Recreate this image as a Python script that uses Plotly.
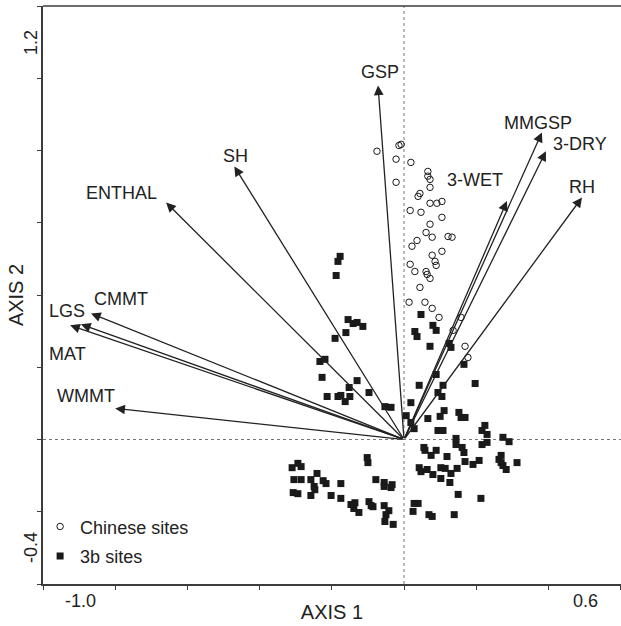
import plotly.graph_objects as go

# ---------------- data ----------------
# Environmental variable vectors (axis 1, axis 2)
var_names = ["GSP", "SH", "ENTHAL", "CMMT", "LGS", "MAT", "WMMT", "3-WET", "MMGSP", "3-DRY", "RH"]
var_x = [-0.072, -0.470, -0.659, -0.867, -0.895, -0.925, -0.800, 0.285, 0.382, 0.393, 0.493]
var_y = [0.980, 0.756, 0.656, 0.349, 0.319, 0.316, 0.086, 0.660, 0.850, 0.798, 0.670]

# Chinese sites (open circles)
cn_x = [-0.075, -0.014, -0.008, -0.022, 0.019, -0.022, 0.066, 0.066, 0.072, 0.072,
        0.044, 0.039, 0.072, 0.091, 0.105, 0.017, 0.047, 0.105, 0.072, 0.061,
        0.078, 0.122, 0.133, 0.022, 0.036, 0.078, 0.105, 0.086, 0.089, 0.017,
        0.030, 0.061, 0.064, 0.072, 0.044, 0.014, 0.058, 0.078, 0.097, 0.158,
        0.136, 0.169, 0.177]
cn_y = [0.798, 0.814, 0.817, 0.776, 0.767, 0.712, 0.742, 0.729, 0.720, 0.698,
        0.681, 0.673, 0.654, 0.654, 0.659, 0.634, 0.629, 0.615, 0.596, 0.573,
        0.560, 0.562, 0.560, 0.535, 0.551, 0.510, 0.521, 0.493, 0.482, 0.485,
        0.465, 0.465, 0.457, 0.446, 0.421, 0.380, 0.380, 0.363, 0.338, 0.338,
        0.302, 0.258, 0.227]

# 3b sites (filled squares)
b3_x = [
    # upper-left group
    -0.177, -0.183, -0.188, -0.155, -0.141, -0.130, -0.114, -0.161, -0.191, -0.233,
    -0.219, -0.227, -0.130, -0.152, -0.213, -0.183, -0.175, -0.150, -0.163, -0.097,
    -0.053, -0.036,
    # upper-right group
    0.047, 0.080, 0.089, 0.030, 0.036, 0.072, 0.125, 0.130, 0.166, 0.089,
    0.197, 0.042, 0.108, 0.094, 0.105, 0.019, 0.006, 0.111, 0.100, 0.066,
    0.152, 0.158, 0.169, 0.019, 0.028, 0.224, 0.216, 0.230, 0.094, 0.108,
    0.274, 0.291, 0.144, 0.144, 0.216, 0.230,
    # lower-right group
    0.055, 0.058, 0.089, 0.161, 0.166, 0.075, 0.119, 0.269, 0.263, 0.269,
    0.274, 0.283, 0.313, 0.169, 0.191, 0.208, 0.042, 0.047, 0.064, 0.102,
    0.114, 0.080, 0.147, 0.130, 0.102, 0.127, 0.150, 0.213, 0.028, 0.039,
    0.025, 0.069, 0.078, 0.139,
    # lower-left group
    -0.102, -0.100, -0.294, -0.285, -0.310, -0.305, -0.285, -0.241, -0.258, -0.249,
    -0.247, -0.224, -0.216, -0.175, -0.307, -0.294, -0.258, -0.202, -0.175, -0.147,
    -0.136, -0.078, -0.055, -0.055, -0.033, -0.036, -0.097, -0.091, -0.086, -0.139,
    -0.125, -0.055, -0.042, -0.050, -0.053, -0.030]
b3_y = [
    0.507, 0.493, 0.454, 0.332, 0.321, 0.324, 0.313, 0.296, 0.280, 0.216,
    0.222, 0.172, 0.163, 0.144, 0.119, 0.119, 0.122, 0.119, 0.105, 0.130,
    0.091, 0.089,
    0.346, 0.316, 0.302, 0.299, 0.285, 0.258, 0.266, 0.255, 0.208, 0.180,
    0.155, 0.150, 0.150, 0.130, 0.119, 0.102, 0.066, 0.080, 0.064, 0.058,
    0.075, 0.061, 0.061, 0.047, 0.030, 0.039, 0.025, 0.014, 0.025, 0.025,
    0.006, -0.006, 0.003, -0.014, -0.014, -0.008,
    -0.022, -0.030, -0.030, -0.022, -0.036, -0.044, -0.047, -0.044, -0.055, -0.064,
    -0.072, -0.083, -0.064, -0.061, -0.069, -0.058, -0.078, -0.089, -0.083, -0.078,
    -0.080, -0.097, -0.080, -0.094, -0.108, -0.119, -0.152, -0.163, -0.177, -0.177,
    -0.199, -0.208, -0.213, -0.208,
    -0.050, -0.064, -0.066, -0.075, -0.078, -0.111, -0.111, -0.094, -0.111, -0.130,
    -0.139, -0.114, -0.122, -0.122, -0.147, -0.150, -0.155, -0.155, -0.163, -0.180,
    -0.175, -0.111, -0.119, -0.130, -0.125, -0.133, -0.172, -0.183, -0.186, -0.191,
    -0.202, -0.183, -0.197, -0.208, -0.227, -0.235]

# axis range and tick labels
x_range = [-1.0, 0.601]
y_range = [-0.4, 1.2]
tick_step = 0.2
x_end_labels = ["-1.0", "0.6"]
y_end_labels = ["-0.4", "1.2"]

# ---------------- styling / label placement (pixels) ----------------
label_shift = {
    "GSP": (2, 13), "SH": (1, 10), "ENTHAL": (-45, 10), "CMMT": (30, 14),
    "LGS": (-14, 13), "MAT": (-3, -29), "WMMT": (-29, 12), "3-WET": (-32, 21),
    "MMGSP": (-4, 9), "3-DRY": (34, 7), "RH": (0, 10),
}
FONT = "Liberation Sans, Arial, Helvetica, sans-serif"
INK = "#222222"
AXC = "#3c3c3c"

fig = go.Figure()

fig.add_trace(go.Scatter(
    x=cn_x, y=cn_y, mode="markers", name="Chinese sites", legendgroup="a",
    marker=dict(symbol="circle-open", size=6.5, color="#1a1a1a", line=dict(width=1, color="#1a1a1a")),
))
fig.add_trace(go.Scatter(
    x=b3_x, y=b3_y, mode="markers", name="3b sites", legendgroup="b",
    marker=dict(symbol="square", size=7, color="#1a1a1a", line=dict(width=0)),
))

annotations = []
for name, vx, vy in zip(var_names, var_x, var_y):
    annotations.append(dict(
        x=vx, y=vy, ax=0, ay=0, xref="x", yref="y", axref="x", ayref="y",
        text="", showarrow=True, arrowhead=2, arrowsize=1.5, arrowwidth=1.3,
        arrowcolor=INK,
    ))
    dx, dy = label_shift[name]
    annotations.append(dict(
        x=vx, y=vy, xref="x", yref="y", text=name, showarrow=False,
        xshift=dx, yshift=dy, xanchor="center", yanchor="middle",
        font=dict(family=FONT, size=18, color=INK),
    ))

# end tick labels (CanoDraw style)
annotations += [
    dict(x=x_range[0], y=0, xref="x", yref="paper", text=x_end_labels[0], showarrow=False,
         xshift=37, yshift=-5, xanchor="center", yanchor="top", font=dict(family=FONT, size=18, color=INK)),
    dict(x=x_range[1], y=0, xref="x", yref="paper", text=x_end_labels[1], showarrow=False,
         xshift=-36, yshift=-5, xanchor="center", yanchor="top", font=dict(family=FONT, size=18, color=INK)),
    dict(x=0, y=y_range[0], xref="paper", yref="y", text=y_end_labels[0], showarrow=False,
         textangle=-90, xshift=0, yshift=36, xanchor="right", yanchor="middle", font=dict(family=FONT, size=18, color=INK)),
    dict(x=0, y=y_range[1], xref="paper", yref="y", text=y_end_labels[1], showarrow=False,
         textangle=-90, xshift=0, yshift=-37, xanchor="right", yanchor="middle", font=dict(family=FONT, size=18, color=INK)),
]

n_x = int(round((x_range[1] - x_range[0]) / tick_step)) + 1
n_y = int(round((y_range[1] - y_range[0]) / tick_step)) + 1
xt = [round(x_range[0] + i * tick_step, 3) for i in range(n_x)]
yt = [round(y_range[0] + i * tick_step, 3) for i in range(n_y)]

fig.update_layout(
    width=621, height=626,
    margin=dict(l=43, r=0, t=6, b=42),
    paper_bgcolor="white", plot_bgcolor="white",
    font=dict(family=FONT, size=18, color=INK),
    showlegend=True,
    legend=dict(x=-0.005, y=0.131, xanchor="left", yanchor="top", bgcolor="rgba(0,0,0,0)",
                font=dict(family=FONT, size=18, color=INK), tracegroupgap=3),
    annotations=annotations,
    xaxis=dict(range=x_range, showgrid=False, zeroline=False, showline=True, linecolor=AXC,
               linewidth=1.6, ticks="outside", ticklen=4, tickcolor=AXC, tickwidth=1.2,
               tickvals=xt, showticklabels=False,
               title=dict(text="AXIS 1", font=dict(family=FONT, size=20, color=INK), standoff=16)),
    yaxis=dict(range=y_range, showgrid=False, zeroline=False, showline=True, linecolor=AXC,
               linewidth=1.6, ticks="outside", ticklen=4, tickcolor=AXC, tickwidth=1.2,
               tickvals=yt, showticklabels=False,
               title=dict(text="AXIS 2", font=dict(family=FONT, size=20, color=INK), standoff=8)),
    shapes=[
        dict(type="line", xref="x", yref="paper", x0=0, x1=0, y0=0, y1=1,
             line=dict(color="#777777", width=1, dash="dot"), layer="below"),
        dict(type="line", xref="paper", yref="y", x0=0, x1=1, y0=0, y1=0,
             line=dict(color="#777777", width=1, dash="dot"), layer="below"),
        dict(type="line", xref="paper", yref="paper", x0=0, x1=1, y0=1, y1=1,
             line=dict(color=AXC, width=1.6)),
    ],
)

fig.write_html("out.html")
